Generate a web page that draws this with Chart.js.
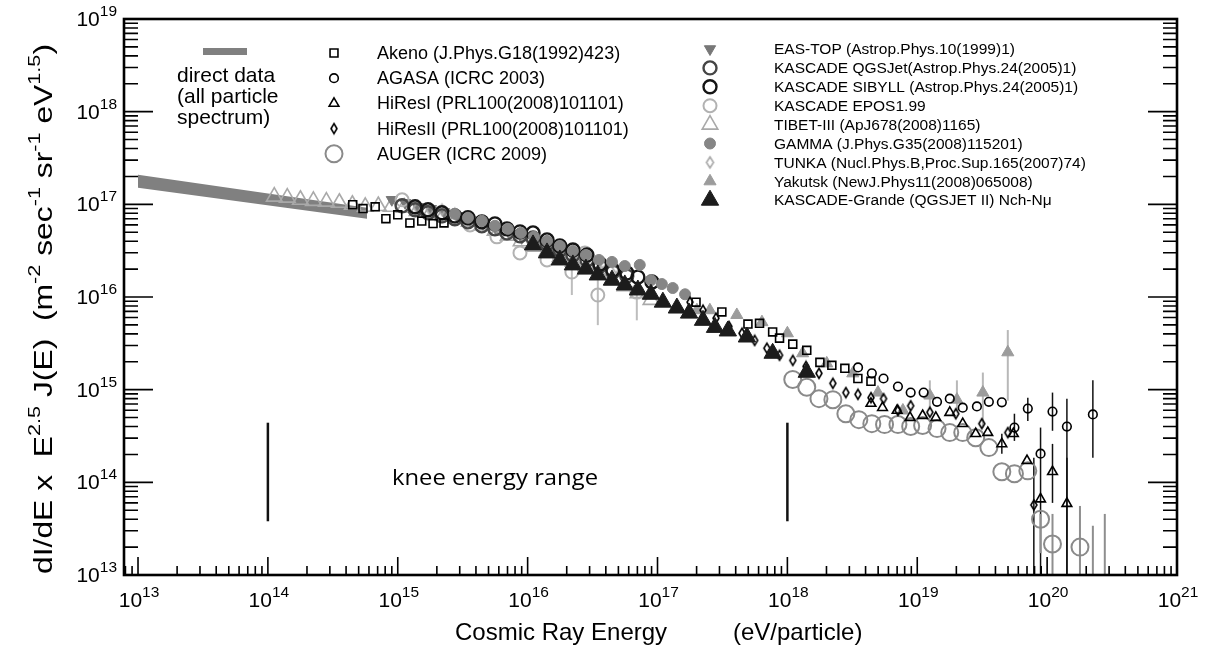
<!DOCTYPE html>
<html>
<head>
<meta charset="utf-8">
<script src="https://cdn.jsdelivr.net/npm/chart.js@4.4.1/dist/chart.umd.min.js"></script>
<style>html,body{margin:0;padding:0;background:#fff}canvas{display:block}</style>
</head>
<body>
<canvas id="chart" width="1207" height="652"></canvas>
<script>
// axis decades and ranges
const xTickPowers = [13, 14, 15, 16, 17, 18, 19, 20, 21];
const yTickPowers = [13, 14, 15, 16, 17, 18, 19];
const xRange = [7.8e12, 1e21];
const yRange = [1e13, 1e19];

// [energy eV, E^2.5 J(E)]
const directUpper = [[1e13, 2.09e17], [5.8e14, 9.2e16]];
const directLower = [[1e13, 1.51e17], [5.8e14, 6.98e16]];

const akeno = [[4.5e14, 9.9e16], [5.4e14, 9.0e16], [6.7e14, 9.4e16], [8.1e14, 7.0e16], [1.0e15, 7.7e16],
  [1.24e15, 6.3e16], [1.53e15, 6.6e16], [1.87e15, 6.2e16], [2.27e15, 6.3e16],
  [1.98e17, 8.8e15], [3.13e17, 6.9e15], [4.97e17, 5.1e15], [6.1e17, 5.2e15], [7.7e17, 4.2e15],
  [8.7e17, 3.6e15], [1.1e18, 3.1e15], [1.41e18, 2.66e15], [1.78e18, 1.97e15], [2.2e18, 1.83e15],
  [2.77e18, 1.70e15], [3.49e18, 1.32e15], [4.4e18, 1.23e15]];
const agasa = [[3.5e18, 1.74e15], [4.47e18, 1.5e15], [5.5e18, 1.32e15], [7.1e18, 1.08e15], [8.9e18, 9.3e14],
  [1.12e19, 9.3e14], [1.42e19, 7.4e14], [1.78e19, 8.0e14], [2.24e19, 6.4e14], [2.88e19, 6.6e14],
  [3.56e19, 7.4e14], [4.48e19, 7.3e14], [5.6e19, 3.9e14], [7.1e19, 6.25e14], [8.9e19, 2.04e14],
  [1.1e20, 5.8e14], [1.42e20, 4.0e14], [2.25e20, 5.4e14]];
const hiresI = [[4.4e18, 7.1e14], [5.4e18, 6.4e14], [7.0e18, 5.96e14], [8.8e18, 5.0e14], [1.1e19, 5.25e14],
  [1.39e19, 5.0e14], [1.78e19, 5.66e14], [2.24e19, 4.3e14], [2.82e19, 3.35e14], [3.49e19, 3.44e14],
  [4.48e19, 2.6e14], [5.5e19, 3.35e14], [7.0e19, 1.71e14], [8.9e19, 6.6e13], [1.1e20, 1.3e14], [1.42e20, 5.9e13]];
const hiresII = [[1.78e17, 8.8e15], [2.24e17, 7.2e15], [2.82e17, 5.9e15], [3.55e17, 4.8e15], [4.47e17, 4.06e15],
  [5.6e17, 3.4e15], [6.95e17, 2.8e15], [8.7e17, 2.35e15], [1.1e18, 2.07e15], [1.39e18, 1.78e15],
  [1.75e18, 1.5e15], [2.24e18, 1.17e15], [2.82e18, 9.3e14], [3.49e18, 8.9e14], [4.4e18, 8.2e14],
  [5.5e18, 8.0e14], [7.1e18, 5.96e14], [8.9e18, 6.7e14], [1.25e19, 5.7e14], [1.98e19, 5.5e14],
  [3.14e19, 4.3e14], [4.98e19, 3.44e14], [7.9e19, 5.7e13]];
const auger = [[1.1e18, 1.29e15], [1.41e18, 1.06e15], [1.75e18, 8.0e14], [2.24e18, 7.8e14], [2.82e18, 5.5e14],
  [3.55e18, 4.75e14], [4.47e18, 4.3e14], [5.6e18, 4.2e14], [7.1e18, 4.2e14], [8.9e18, 4.0e14],
  [1.1e19, 4.1e14], [1.42e19, 3.8e14], [1.78e19, 3.44e14], [2.24e19, 3.44e14], [2.82e19, 3.03e14],
  [3.56e19, 2.37e14], [4.48e19, 1.3e14], [5.6e19, 1.24e14], [7.1e19, 1.33e14], [8.9e19, 4.0e13],
  [1.1e20, 2.16e13], [1.79e20, 2.0e13]];
const easTop = [[9.0e14, 1.12e17], [1.14e15, 1.04e17], [1.43e15, 9.4e16], [1.8e15, 8.96e16], [2.27e15, 8.3e16],
  [2.86e15, 7.5e16], [3.6e15, 6.8e16], [4.53e15, 6.16e16], [5.7e15, 5.44e16], [7.2e15, 4.92e16],
  [9.0e15, 4.35e16], [1.14e16, 3.84e16], [1.43e16, 3.3e16], [1.8e16, 2.84e16]];
const kascadeQgs = [[1.08e15, 9.66e16], [1.36e15, 8.73e16], [1.71e15, 8.1e16], [2.19e15, 7.5e16], [2.75e15, 6.98e16],
  [3.47e15, 6.47e16], [4.44e15, 5.86e16], [5.6e15, 5.44e16], [6.93e15, 4.92e16], [8.73e15, 4.57e16],
  [1.1e16, 4.35e16], [1.41e16, 3.74e16], [1.77e16, 3.22e16], [2.23e16, 2.84e16], [2.86e16, 2.51e16],
  [3.6e16, 2.16e16], [4.53e16, 1.86e16], [5.8e16, 1.68e16]];
const kascadeSib = [[1.36e15, 9.4e16], [1.71e15, 8.73e16], [2.19e15, 8.1e16], [2.75e15, 7.5e16], [3.47e15, 7.16e16],
  [4.44e15, 6.47e16], [5.6e15, 6.16e16], [6.93e15, 5.44e16], [8.73e15, 5.05e16], [1.1e16, 4.92e16],
  [1.41e16, 4.13e16], [1.77e16, 3.56e16], [2.23e16, 3.22e16], [2.86e16, 2.84e16], [3.6e16, 2.27e16],
  [4.53e16, 1.95e16], [5.8e16, 1.82e16], [7.06e16, 1.64e16], [9.06e16, 1.45e16]];
const kascadeEpos = [[1.08e15, 1.12e17], [1.36e15, 9.2e16], [2.19e15, 7.5e16], [3.6e15, 6.0e16], [5.8e15, 4.46e16],
  [8.73e15, 2.99e16], [1.41e16, 2.51e16], [2.19e16, 1.86e16], [2.76e16, 2.99e16], [3.47e16, 1.05e16], [6.93e16, 1.13e16]];
const tibet = [[1.12e14, 1.21e17], [1.41e14, 1.18e17], [1.78e14, 1.12e17], [2.24e14, 1.09e17], [2.82e14, 1.07e17],
  [3.55e14, 1.04e17], [4.47e14, 9.9e16], [5.62e14, 9.4e16], [7.08e14, 9.6e16], [8.91e14, 9.4e16],
  [1.12e15, 9.2e16], [1.41e15, 8.5e16], [1.78e15, 8.1e16], [2.24e15, 7.5e16], [2.82e15, 7.0e16],
  [3.55e15, 6.5e16], [4.47e15, 5.9e16], [5.62e15, 5.2e16], [7.08e15, 4.6e16], [8.91e15, 4.0e16],
  [1.12e16, 3.5e16], [1.41e16, 3.1e16], [1.78e16, 2.7e16], [2.24e16, 2.4e16], [2.82e16, 2.06e16],
  [3.55e16, 1.77e16], [4.47e16, 1.52e16], [5.62e16, 1.31e16], [7.08e16, 1.10e16], [8.91e16, 9.3e15]];
const gamma = [[2.75e15, 7.9e16], [3.47e15, 7.16e16], [4.44e15, 6.64e16], [5.6e15, 5.86e16], [7.05e15, 5.44e16],
  [8.87e15, 4.92e16], [1.12e16, 4.46e16], [1.41e16, 4.03e16], [1.77e16, 3.56e16], [2.23e16, 3.14e16],
  [2.81e16, 2.84e16], [3.54e16, 2.51e16], [4.46e16, 2.39e16], [5.6e16, 2.16e16], [7.3e16, 2.22e16],
  [8.9e16, 1.52e16], [1.08e17, 1.38e16], [1.31e17, 1.25e16], [1.63e17, 1.07e16]];
const tunka = [[1.41e15, 9.2e16], [1.77e15, 8.73e16], [2.19e15, 8.73e16], [2.75e15, 7.9e16], [3.6e15, 6.98e16],
  [4.53e15, 6.47e16], [5.8e15, 5.7e16], [7.3e15, 5.18e16], [9.2e15, 4.57e16], [1.18e16, 4.13e16],
  [1.49e16, 3.65e16], [1.87e16, 3.3e16], [2.35e16, 2.92e16], [2.96e16, 2.64e16], [3.8e16, 2.33e16], [4.79e16, 2.06e16]];
const yakutsk = [[2.01e17, 7.2e15], [2.53e17, 7.2e15], [4.08e17, 6.4e15], [6.37e17, 5.35e15], [1.0e18, 4.06e15],
  [1.31e18, 2.47e15], [2.01e18, 1.92e15], [3.19e18, 1.5e15], [4.98e18, 9.3e14], [7.75e18, 5.96e14],
  [1.25e19, 8.65e14], [2.02e19, 7.8e14], [3.2e19, 9.3e14], [4.98e19, 2.53e15]];
const kascadeGrande = [[1.1e16, 3.65e16], [1.41e16, 2.99e16], [1.77e16, 2.51e16], [2.23e16, 2.22e16], [2.81e16, 2.0e16],
  [3.47e16, 1.73e16], [4.46e16, 1.52e16], [5.6e16, 1.35e16], [7.06e16, 1.19e16], [8.9e16, 1.07e16],
  [1.1e17, 8.8e15], [1.41e17, 7.6e15], [1.75e17, 6.7e15], [2.24e17, 5.6e15], [2.77e17, 4.7e15],
  [3.48e17, 4.3e15], [4.88e17, 3.7e15], [7.7e17, 2.47e15], [1.41e18, 1.54e15]];

// error bars: [energy, low, high]
const agasaBars = [[5.6e19, 2.8e14, 5.5e14], [7.1e19, 4.6e14, 8.2e14], [8.9e19, 1e13, 3.9e14],
  [1.1e20, 3.6e14, 9.3e14], [1.42e20, 1e13, 8.0e14], [2.25e20, 1.84e14, 1.26e15]];
const hiresBars = [[4.48e19, 2.04e14, 3.35e14], [1.1e20, 6.0e13, 2.6e14], [1.42e20, 1e13, 1.84e14], [7.9e19, 1e13, 1.84e14]];
const augerBars = [[8.9e19, 1.72e13, 4.56e13], [1.1e20, 1e13, 4.56e13], [1.79e20, 1e13, 5.56e13],
  [2.25e20, 1e13, 3.4e13], [2.78e20, 1e13, 4.56e13]];
const yakutskBars = [[1.25e19, 6.4e14, 1.26e15], [2.02e19, 5.96e14, 1.26e15], [3.2e19, 3.9e14, 1.53e15], [4.98e19, 7.6e14, 4.4e15]];
const eposBars = [[3.47e16, 4.97e15, 1.52e16], [6.93e16, 5.6e15, 1.28e16], [2.19e16, 1.05e16, 2.1e16]];

const kneeEdges = [1e14, 1e18];
const kneeSpan = [3.8e13, 4.4e14];

const leftLegendNames = ['Akeno (J.Phys.G18(1992)423)', 'AGASA (ICRC 2003)', 'HiResI (PRL100(2008)101101)',
  'HiResII (PRL100(2008)101101)', 'AUGER (ICRC 2009)'];
const rightLegendNames = ['EAS-TOP (Astrop.Phys.10(1999)1)', 'KASCADE QGSJet(Astrop.Phys.24(2005)1)',
  'KASCADE SIBYLL (Astrop.Phys.24(2005)1)', 'KASCADE EPOS1.99', 'TIBET-III (ApJ678(2008)1165)',
  'GAMMA (J.Phys.G35(2008)115201)', 'TUNKA (Nucl.Phys.B,Proc.Sup.165(2007)74)', 'Yakutsk (NewJ.Phys11(2008)065008)',
  'KASCADE-Grande (QGSJET II) Nch-N\u03bc'];
const directLabel = ['direct data', '(all particle', 'spectrum)'];

const FONT = '"Liberation Sans", Arial, sans-serif';

function tallDiamond(w, h, color) {
  const c = document.createElement('canvas');
  c.width = w + 4; c.height = h + 4;
  const g = c.getContext('2d');
  g.strokeStyle = color; g.lineWidth = 1.6;
  g.beginPath();
  g.moveTo(c.width / 2, 2); g.lineTo(c.width - 2, c.height / 2);
  g.lineTo(c.width / 2, c.height - 2); g.lineTo(2, c.height / 2);
  g.closePath(); g.stroke();
  return c;
}

const pts = arr => arr.map(p => ({x: p[0], y: p[1]}));
const open = 'rgba(0,0,0,0)';

function marks(label, data, style, radius, border, fill, bw, rotation) {
  return {
    label, data: pts(data), showLine: false,
    pointStyle: style, pointRadius: radius, pointRotation: rotation || 0,
    pointBorderColor: border, pointBackgroundColor: fill, pointBorderWidth: bw
  };
}

const hiresDiamond = tallDiamond(6, 10, '#000');
const tunkaDiamond = tallDiamond(7, 11, '#a8a8a8');

// first dataset is drawn on top
const datasets = [
  marks('KASCADE-Grande', kascadeGrande, 'triangle', 10, '#1c1c1c', '#1c1c1c', 1),
  marks('AGASA', agasa, 'circle', 4.3, '#000', open, 1.6),
  marks('HiResI', hiresI, 'triangle', 5.6, '#000', open, 1.6),
  marks('HiResII', hiresII, hiresDiamond, 5, '#000', open, 1),
  marks('Akeno', akeno, 'rect', 5.6, '#000', open, 1.6),
  marks('AUGER', auger, 'circle', 8.5, '#8a8a8a', open, 2),
  marks('Yakutsk', yakutsk, 'triangle', 7, '#9c9c9c', '#9c9c9c', 1),
  marks('GAMMA', gamma, 'circle', 5.5, '#868686', '#868686', 1),
  marks('KASCADE SIBYLL', kascadeSib, 'circle', 6.5, '#151515', open, 2.4),
  marks('KASCADE QGSJet', kascadeQgs, 'circle', 6.5, '#454545', open, 2.4),
  marks('KASCADE EPOS1.99', kascadeEpos, 'circle', 6.5, '#b2b2b2', open, 2),
  marks('TUNKA', tunka, tunkaDiamond, 5, '#a8a8a8', open, 1),
  marks('EAS-TOP', easTop, 'triangle', 6.5, '#777', '#777', 1, 180),
  marks('TIBET-III', tibet, 'triangle', 9, '#a9a9a9', open, 1.6),
  {label: 'direct', data: pts(directUpper), showLine: true, pointRadius: 0, borderWidth: 0,
    borderColor: '#808080', backgroundColor: '#808080', fill: '+1'},
  {label: 'direct-low', data: pts(directLower), showLine: true, pointRadius: 0, borderWidth: 0,
    borderColor: '#808080', backgroundColor: '#808080', fill: false}
];

const byLabel = l => datasets.find(d => d.label === l);
const leftLegendSets = ['Akeno', 'AGASA', 'HiResI', 'HiResII', 'AUGER'].map(byLabel);
const rightLegendSets = ['EAS-TOP', 'KASCADE QGSJet', 'KASCADE SIBYLL', 'KASCADE EPOS1.99', 'TIBET-III',
  'GAMMA', 'TUNKA', 'Yakutsk', 'KASCADE-Grande'].map(byLabel);

const errorGroups = [
  {bars: agasaBars, color: '#111', width: 1.5},
  {bars: hiresBars, color: '#111', width: 1.5},
  {bars: augerBars, color: '#8e8e8e', width: 2},
  {bars: yakutskBars, color: '#b8b8b8', width: 2},
  {bars: eposBars, color: '#bdbdbd', width: 2}
];

function drawPow(ctx, base, exp, x, y, align, size, supSize) {
  ctx.font = size + 'px ' + FONT;
  const wb = ctx.measureText(base).width;
  ctx.font = supSize + 'px ' + FONT;
  const we = ctx.measureText(exp).width;
  let x0 = align === 'center' ? x - (wb + we) / 2 : x - wb - we;
  ctx.textAlign = 'left';
  ctx.textBaseline = 'alphabetic';
  ctx.font = size + 'px ' + FONT;
  ctx.fillText(base, x0, y);
  ctx.font = supSize + 'px ' + FONT;
  ctx.fillText(exp, x0 + wb, y - size * 0.48);
}

function drawMarker(ctx, ds, x, y) {
  ctx.save();
  ctx.strokeStyle = ds.pointBorderColor;
  ctx.fillStyle = ds.pointBackgroundColor;
  ctx.lineWidth = ds.pointBorderWidth;
  Chart.helpers.drawPoint(ctx, {pointStyle: ds.pointStyle, radius: ds.pointRadius,
    rotation: ds.pointRotation, borderWidth: ds.pointBorderWidth}, x, y);
  ctx.restore();
}

const frame = {
  id: 'frame',
  beforeDatasetsDraw(chart) {
    const {ctx, chartArea: a} = chart;
    const {x, y} = chart.scales;
    ctx.save();
    ctx.beginPath();
    ctx.rect(a.left, a.top, a.right - a.left, a.bottom - a.top);
    ctx.clip();
    errorGroups.forEach(g => {
      ctx.strokeStyle = g.color;
      ctx.lineWidth = g.width;
      g.bars.forEach(b => {
        const px = x.getPixelForValue(b[0]);
        ctx.beginPath();
        ctx.moveTo(px, y.getPixelForValue(b[1]));
        ctx.lineTo(px, y.getPixelForValue(b[2]));
        ctx.stroke();
      });
    });
    ctx.strokeStyle = '#111';
    ctx.lineWidth = 2.5;
    kneeEdges.forEach(e => {
      const px = x.getPixelForValue(e);
      ctx.beginPath();
      ctx.moveTo(px, y.getPixelForValue(kneeSpan[0]));
      ctx.lineTo(px, y.getPixelForValue(kneeSpan[1]));
      ctx.stroke();
    });
    ctx.restore();
  },
  afterDraw(chart) {
    const {ctx, chartArea: a} = chart;
    const {x, y} = chart.scales;
    ctx.save();
    ctx.fillStyle = '#000';
    ctx.strokeStyle = '#000';

    // minor/major ticks, drawn inward
    ctx.lineWidth = 1.6;
    ctx.beginPath();
    for (let d = 12; d <= 21; d++) {
      for (let m = 1; m <= 9; m++) {
        const v = m * Math.pow(10, d);
        if (v >= x.min && v <= x.max * 1.0001) {
          const px = x.getPixelForValue(v);
          ctx.moveTo(px, a.bottom);
          ctx.lineTo(px, a.bottom - (m === 1 ? 18 : 9));
        }
        if (v >= y.min && v <= y.max * 1.0001) {
          const py = y.getPixelForValue(v);
          const len = m === 1 ? 29 : 14;
          ctx.moveTo(a.left, py); ctx.lineTo(a.left + len, py);
          ctx.moveTo(a.right, py); ctx.lineTo(a.right - len, py);
        }
      }
    }
    ctx.stroke();

    ctx.lineWidth = 2.6;
    ctx.strokeRect(a.left, a.top, a.right - a.left, a.bottom - a.top);

    xTickPowers.forEach(p => drawPow(ctx, '10', String(p), x.getPixelForValue(Math.pow(10, p)) + 1, 607, 'center', 21, 15.5));
    yTickPowers.forEach(p => drawPow(ctx, '10', String(p), 117, y.getPixelForValue(Math.pow(10, p)) + 7, 'right', 21, 15.5));

    // axis titles
    ctx.textBaseline = 'alphabetic';
    ctx.textAlign = 'left';
    ctx.font = '24px ' + FONT;
    ctx.fillText('Cosmic Ray Energy', 455, 640);
    ctx.fillText('(eV/particle)', 733, 640);

    const parts = [['dI/dE x  E', 0], ['2.5', 1], [' J(E)  (m', 0], ['-2', 1], [' sec', 0], ['-1', 1],
      [' sr', 0], ['-1', 1], [' eV', 0], ['1.5', 1], [')', 0]];
    const big = 25, small = 17;
    let total = 0;
    parts.forEach(p => { ctx.font = (p[1] ? small : big) + 'px ' + FONT; total += ctx.measureText(p[0]).width; });
    ctx.save();
    ctx.translate(52, 309);
    ctx.rotate(-Math.PI / 2);
    ctx.scale(530 / total, 1);
    let cx = -total / 2;
    parts.forEach(p => {
      ctx.font = (p[1] ? small : big) + 'px ' + FONT;
      ctx.fillText(p[0], cx, p[1] ? -12 : 0);
      cx += ctx.measureText(p[0]).width;
    });
    ctx.restore();

    // knee label
    ctx.font = '22px "Open Sans", ' + FONT;
    const kw = ctx.measureText('knee energy range').width;
    ctx.save();
    ctx.translate(392, 485);
    ctx.scale(206 / kw, 1);
    ctx.fillText('knee energy range', 0, 0);
    ctx.restore();

    // direct data legend entry
    ctx.fillStyle = '#808080';
    ctx.fillRect(203, 48, 44, 7);
    ctx.fillStyle = '#000';
    ctx.font = '21px ' + FONT;
    directLabel.forEach((t, i) => ctx.fillText(t, 177, 82 + i * 21));

    // left legend
    leftLegendSets.forEach((ds, i) => {
      const ly = 53 + i * 25.2;
      drawMarker(ctx, ds, 334, ly);
      ctx.fillStyle = '#000';
      ctx.textBaseline = 'middle';
      ctx.font = '18px ' + FONT;
      ctx.fillText(leftLegendNames[i], 377, ly + 1);
    });

    // right legend
    rightLegendSets.forEach((ds, i) => {
      const ly = 49 + i * 18.9;
      drawMarker(ctx, ds, 710, ly);
      ctx.fillStyle = '#000';
      ctx.textBaseline = 'middle';
      ctx.font = '15.5px ' + FONT;
      ctx.fillText(rightLegendNames[i], 774, ly + 1);
    });
    ctx.restore();
  }
};

new Chart(document.getElementById('chart'), {
  type: 'scatter',
  data: {datasets},
  options: {
    responsive: false,
    animation: false,
    devicePixelRatio: 1,
    layout: {autoPadding: false, padding: {left: 124, top: 19, right: 30, bottom: 77}},
    plugins: {legend: {display: false}, tooltip: {enabled: false}},
    scales: {
      x: {type: 'logarithmic', min: xRange[0], max: xRange[1], display: false},
      y: {type: 'logarithmic', min: yRange[0], max: yRange[1], display: false}
    }
  },
  plugins: [frame]
});
</script>
</body>
</html>
